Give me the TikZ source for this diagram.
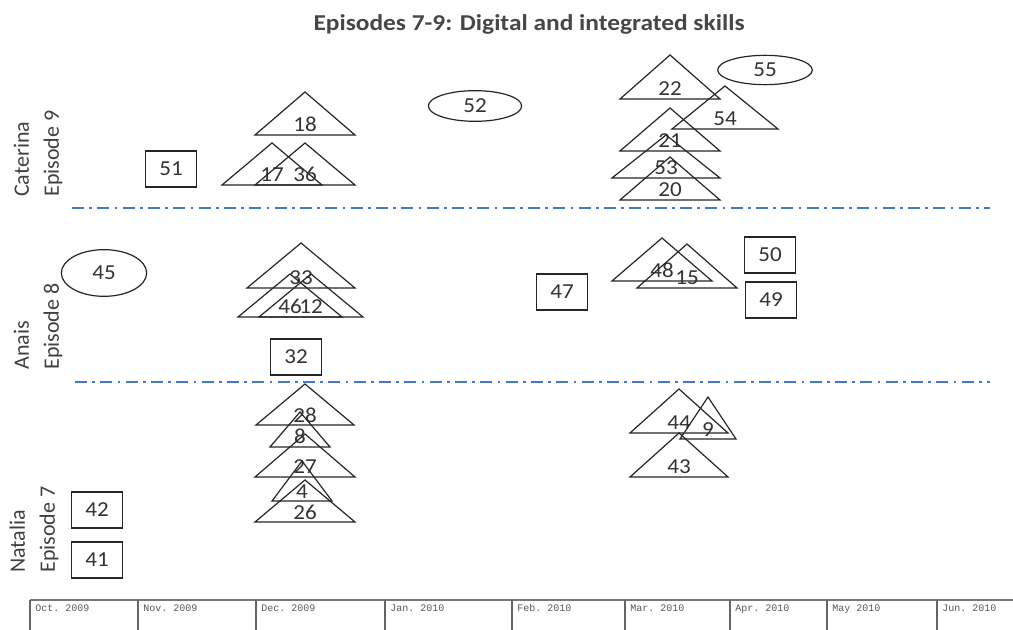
\documentclass[tikz,border=0pt]{standalone}
\usepackage{fontspec}
\setmainfont{Carlito}
\setmonofont{Liberation Mono}
\newfontfamily\titlefont[FakeStretch=1.12]{Carlito}
\newfontfamily\numfont[FakeStretch=1.08]{Carlito}
\usetikzlibrary{shapes.geometric, positioning}
\definecolor{sepblue}{RGB}{70,120,200}
\definecolor{titlegray}{RGB}{70,70,70}
\definecolor{gridgray}{RGB}{120,120,120}

\begin{document}
\begin{tikzpicture}[x=0.75pt, y=-0.75pt,
    num/.style={inner sep=0pt, font=\numfont\fontsize{16}{19}\selectfont, text=black!80},
    box/.style={num, draw=black!85, line width=1pt, minimum width=38pt, minimum height=27pt},
    oval/.style={num, draw=black!85, ellipse, line width=0.9pt},
    tri/.style={black!85, line width=0.9pt},
    sep/.style={sepblue, line width=1.4pt, dash pattern=on 9pt off 4pt on 2pt off 4pt},
    who/.style={rotate=90, anchor=west, align=left, inner sep=0pt,
      font=\fontsize{16.5}{22.5}\selectfont, text=black!75},
    month/.style={anchor=base west, inner sep=0pt,
      font=\ttfamily\fontsize{7.5}{8}\selectfont, text=black!65}]
  \useasboundingbox (0,0) rectangle (1013,630);
  \fill[white] (0,0) rectangle (1013,630);

  % title
  \node[font=\titlefont\bfseries\fontsize{17}{20}\selectfont, text=titlegray] (title) at (529,24)
    {Episodes 7-9: Digital and integrated skills};

  % rows
  \node[who] (cat) at (38,197) {Caterina\\Episode 9};
  \node[who] (ana) at (38,370) {Anais\\Episode 8};
  \node[who] (nat) at (34,573) {Natalia\\Episode 7};

  % separators
  \draw[sep] (72,208) -- (990,208);
  \draw[sep] (75,382) -- (990,382);

  % triangles: label / base centre x / base y / half width / height
  \foreach \lbl/\x/\y/\w/\h in {
    18/305/135/50/43, 17/272/185/50/42, 36/305/185/50/42,
    22/670/99/50/44, 54/725/129/53/43, 21/670/151/50/43,
    53/666/178/54/43, 20/670/200/50/43,
    33/301/288/54/45, 46/290/317/52/43, 12/311/317/52/43,
    48/662/281/50/43, 15/687/288/50/44,
    28/305/425/49/41, 8/300/447/30/35, 27/305/477/50/43,
    4/302/501/30/40, 26/305/522/50/42,
    44/679/433/49/44, 9/708/439/28/42, 43/679/477/49/44}{
    \draw[tri] (\x-\w,\y) -- (\x,\y-\h) -- (\x+\w,\y) -- cycle;
    \node[num, anchor=base] (t\lbl) at (\x,\y-3) {\lbl};
  }

  % boxes
  \foreach \lbl/\x/\y in {51/171/169, 32/296/357, 47/562/292,
    50/770/255, 49/771/300, 42/97/510, 41/97/560}
    \node[box] (b\lbl) at (\x,\y) {\lbl};

  % ovals
  \node[oval, minimum width=70pt, minimum height=23pt] (e52) at (475,106) {52};
  \node[oval, minimum width=71pt, minimum height=22pt] (e55) at (765,70) {55};
  \node[oval, minimum width=64pt, minimum height=35pt] (e45) at (104,273) {45};

  % time line
  \draw[gridgray, line width=1.5pt] (30,600) -- (1013,600);
  \foreach \x/\m in {30/Oct. 2009, 138/Nov. 2009, 256/Dec. 2009,
    385/Jan. 2010, 512/Feb. 2010, 625/Mar. 2010, 730/Apr. 2010,
    827/May 2010, 937/Jun. 2010}{
    \draw[black!60, line width=1.2pt] (\x,600) -- (\x,630);
    \node[month] (m\x) at (\x+5,611) {\m};
  }
\end{tikzpicture}
\end{document}
